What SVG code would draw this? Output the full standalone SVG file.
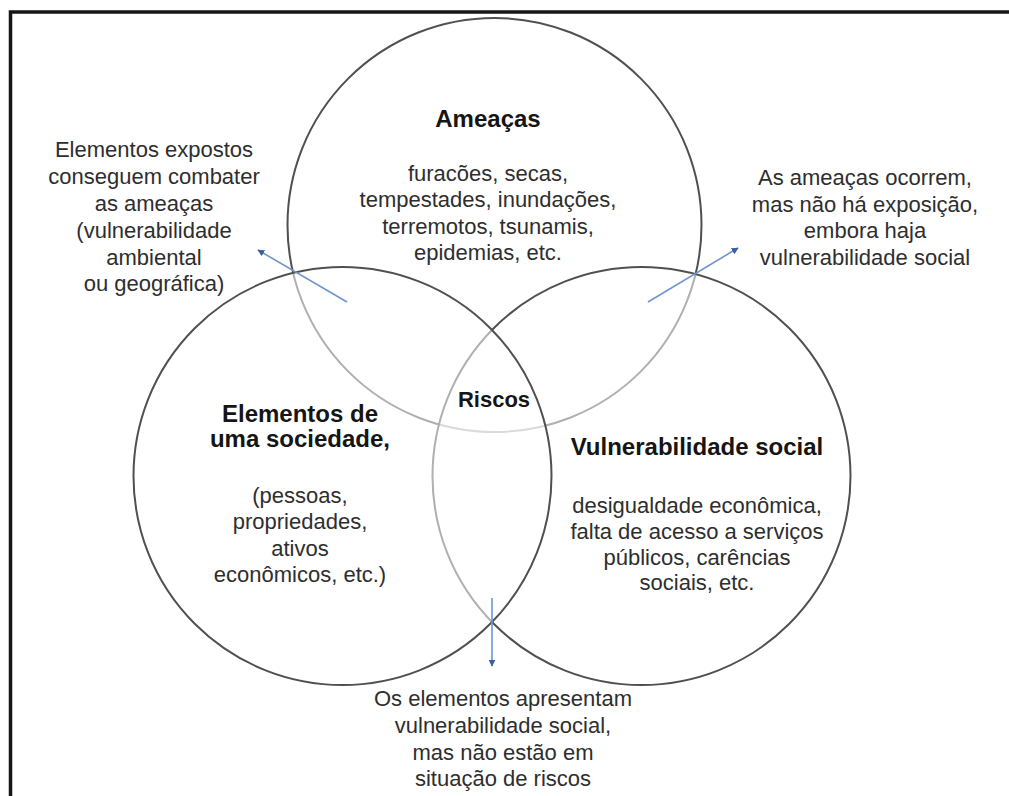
<svg xmlns="http://www.w3.org/2000/svg" width="1009" height="796" viewBox="0 0 1009 796">
<style>
.bg{fill:#ffffff}
.frame{fill:none;stroke:#161616;stroke-width:3.5}
.circ{fill:#ffffff;fill-opacity:0.55;stroke:#505050;stroke-width:2}
.title{font-family:"Liberation Sans",Arial,sans-serif;font-size:24px;font-weight:bold;fill:#151515;text-anchor:middle}
.riscos{font-size:22px}
.body{font-family:"Liberation Sans",Arial,sans-serif;font-size:22px;fill:#2e2e2e;text-anchor:middle}
.arrow{fill:none;stroke:#6f95cf;stroke-width:1.6;marker-end:url(#ah)}
</style>
<defs>
<marker id="ah" viewBox="0 0 10 10" refX="9" refY="5" markerWidth="7" markerHeight="7" orient="auto" markerUnits="userSpaceOnUse">
<path d="M0,0 L10,5 L0,10 z" fill="#3d5f9e"/>
</marker>
</defs>
<rect class="bg" x="0" y="0" width="1009" height="796"/>
<rect class="frame" x="10.5" y="12" width="1100" height="900"/>

<g id="node-ameacas">
<circle class="circ" cx="494.5" cy="225" r="207"/>
<text class="title" x="488" y="127">Ameaças</text>
<text class="body" x="488" y="181">furacões, secas,</text>
<text class="body" x="488" y="207">tempestades, inundações,</text>
<text class="body" x="488" y="233.5">terremotos, tsunamis,</text>
<text class="body" x="488" y="260">epidemias, etc.</text>
</g>

<g id="node-vulnerabilidade">
<circle class="circ" cx="641.5" cy="476" r="209"/>
<text class="title" x="697" y="455">Vulnerabilidade social</text>
<text class="body" x="697" y="513">desigualdade econômica,</text>
<text class="body" x="697" y="539">falta de acesso a serviços</text>
<text class="body" x="697" y="565">públicos, carências</text>
<text class="body" x="697" y="590">sociais, etc.</text>
</g>

<g id="node-elementos">
<circle class="circ" cx="342.5" cy="476" r="209"/>
<text class="title" x="300" y="422">Elementos de</text>
<text class="title" x="300" y="447">uma sociedade,</text>
<text class="body" x="300" y="503">(pessoas,</text>
<text class="body" x="300" y="529">propriedades,</text>
<text class="body" x="300" y="555.5">ativos</text>
<text class="body" x="300" y="582">econômicos, etc.)</text>
</g>

<g id="node-riscos">
<text class="title riscos" x="494" y="407">Riscos</text>
</g>

<g id="note-left">
<text class="body" x="154" y="157">Elementos expostos</text>
<text class="body" x="154" y="184">conseguem combater</text>
<text class="body" x="154" y="211">as ameaças</text>
<text class="body" x="154" y="238">(vulnerabilidade</text>
<text class="body" x="154" y="265">ambiental</text>
<text class="body" x="154" y="291">ou geográfica)</text>
</g>

<g id="note-right">
<text class="body" x="865" y="185">As ameaças ocorrem,</text>
<text class="body" x="865" y="211.5">mas não há exposição,</text>
<text class="body" x="865" y="238">embora haja</text>
<text class="body" x="865" y="264.5">vulnerabilidade social</text>
</g>

<g id="note-bottom">
<text class="body" x="503" y="706">Os elementos apresentam</text>
<text class="body" x="503" y="733">vulnerabilidade social,</text>
<text class="body" x="503" y="760">mas não estão em</text>
<text class="body" x="503" y="786">situação de riscos</text>
</g>

<g id="connectors">
<line class="arrow" x1="347" y1="302" x2="258" y2="250"/>
<line class="arrow" x1="648" y1="302" x2="738" y2="248"/>
<line class="arrow" x1="492" y1="598" x2="492" y2="666"/>
</g>
</svg>
